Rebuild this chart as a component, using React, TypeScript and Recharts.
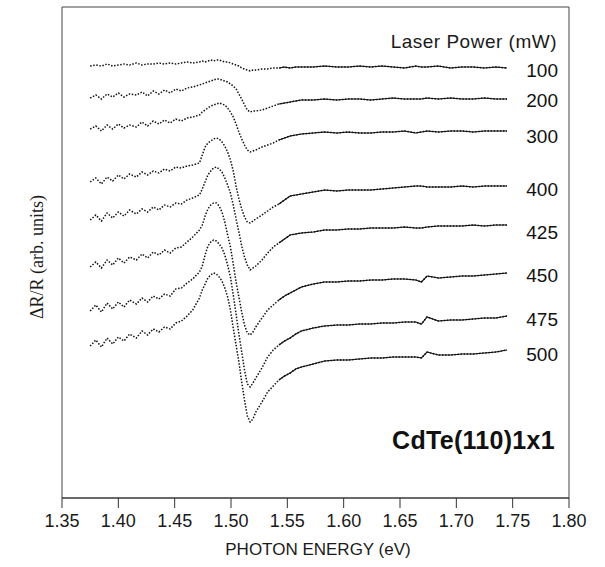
import React from "react";
import { LineChart, Line, XAxis, YAxis, ReferenceArea } from "recharts";

// Photon energy (eV) sample positions
const energy = [
  1.375, 1.38, 1.385, 1.39, 1.395, 1.4, 1.405, 1.41, 1.416, 1.421, 1.426, 1.431, 1.436, 1.441, 1.446, 1.451, 1.456, 1.461, 1.466,
  1.472, 1.4745, 1.477, 1.4795, 1.482, 1.4845, 1.487, 1.4895, 1.492, 1.4945, 1.497, 1.4995, 1.502, 1.5045, 1.507, 1.5095, 1.512, 1.5145, 1.517, 1.5195, 1.522,
  1.5275, 1.5325, 1.5375, 1.5425, 1.5475, 1.5525, 1.5575, 1.5625,
  1.573, 1.583, 1.594, 1.604, 1.614, 1.624, 1.634, 1.644, 1.654, 1.664, 1.669, 1.674, 1.684, 1.695, 1.705, 1.715, 1.725, 1.735, 1.745,
];

// ΔR/R (arb. units, vertically offset) for each laser power (mW)
const p100 = [
  432, 433, 432, 434, 432, 433, 434, 433, 435, 433, 434, 434, 435, 434, 435, 434, 435, 436, 435,
  436, 437, 436, 437, 438, 437, 438, 438, 437, 436, 436, 435, 434, 433, 432, 430, 429, 428, 427, 428, 428,
  429, 429, 430, 430, 431, 430, 431, 431,
  431, 432, 431, 431, 432, 431, 432, 431, 430, 432, 431, 431, 432, 430, 431, 431, 430, 431, 430,
];
const p200 = [
  400, 403, 399, 404, 401, 405, 401, 404, 403, 406, 402, 407, 404, 408, 405, 409, 407, 410, 411,
  413, 414, 415, 416, 417, 418, 419, 419, 418, 417, 416, 414, 412, 409, 404, 399, 393, 388, 386, 387, 387,
  388, 390, 392, 394, 395, 396, 397, 398,
  398, 399, 398, 399, 399, 398, 399, 400, 399, 399, 399, 400, 399, 400, 399, 399, 400, 399, 399,
];
const p300 = [
  369, 372, 367, 373, 369, 374, 370, 373, 371, 376, 372, 377, 374, 378, 375, 379, 377, 380, 381,
  383, 386, 388, 390, 392, 393, 394, 395, 394, 393, 390, 386, 381, 374, 366, 359, 353, 348, 346, 347, 348,
  351, 353, 355, 358, 360, 362, 363, 364,
  365, 366, 365, 366, 365, 365, 366, 366, 367, 365, 366, 367, 366, 367, 367, 366, 367, 367, 367,
];
const p400 = [
  316, 320, 314, 321, 317, 323, 319, 324, 321, 326, 323, 327, 325, 329, 327, 331, 330, 332, 333,
  335, 343, 351, 355, 357, 359, 360, 359, 356, 352, 346, 338, 327, 312, 299, 289, 281, 276, 275, 277, 279,
  283, 287, 291, 294, 298, 302, 303, 304,
  306, 308, 307, 308, 308, 308, 309, 310, 311, 312, 312, 311, 311, 311, 312, 311, 312, 312, 312,
];
const p425 = [
  278, 283, 277, 285, 280, 286, 282, 288, 284, 289, 286, 291, 288, 293, 291, 295, 294, 298, 300,
  303, 309, 316, 323, 327, 330, 331, 329, 326, 320, 313, 305, 293, 279, 266, 252, 241, 233, 228, 230, 232,
  238, 245, 251, 255, 259, 263, 264, 265,
  266, 268, 268, 269, 269, 270, 270, 270, 271, 270, 270, 271, 272, 272, 272, 273, 272, 273, 273,
];
const p450 = [
  231, 236, 230, 238, 233, 240, 235, 241, 238, 244, 240, 246, 243, 248, 245, 250, 251, 256, 261,
  268, 273, 282, 289, 293, 295, 295, 292, 286, 276, 263, 251, 234, 216, 201, 186, 173, 165, 163, 166, 171,
  180, 188, 193, 198, 202, 205, 208, 211,
  214, 216, 216, 217, 217, 218, 218, 219, 219, 218, 216, 222, 220, 221, 222, 222, 223, 224, 225,
];
const p475 = [
  187, 193, 186, 195, 189, 196, 191, 198, 194, 200, 196, 202, 199, 204, 202, 209, 210, 215, 219,
  226, 232, 243, 252, 256, 258, 257, 254, 250, 243, 233, 221, 203, 184, 164, 146, 128, 114, 111, 115, 120,
  130, 141, 148, 153, 157, 160, 164, 167,
  170, 172, 173, 173, 174, 174, 175, 175, 176, 176, 174, 181, 177, 178, 178, 179, 180, 180, 182,
];
const p500 = [
  152, 158, 151, 160, 154, 161, 157, 164, 160, 167, 163, 169, 166, 171, 169, 175, 177, 182, 188,
  200, 208, 214, 220, 223, 225, 224, 221, 217, 210, 201, 188, 170, 153, 136, 116, 98, 82, 76, 79, 86,
  96, 106, 112, 118, 122, 125, 129, 131,
  134, 137, 138, 138, 139, 140, 140, 141, 141, 141, 140, 146, 143, 143, 144, 144, 145, 146, 148,
];

const seriesKeys = ["p100", "p200", "p300", "p400", "p425", "p450", "p475", "p500"];
const seriesValues = [p100, p200, p300, p400, p425, p450, p475, p500];
const powerLabels = ["100", "200", "300", "400", "425", "450", "475", "500"];
const labelY = [71, 101, 137, 190, 233, 276, 320, 355];
const xTicks = [1.35, 1.4, 1.45, 1.5, 1.55, 1.6, 1.65, 1.7, 1.75, 1.8];
const smoothFrom = 1.54; // above this energy the dense data look like a continuous trace

const data = energy.map((e, i) => {
  const row: Record<string, number | null> = { e };
  seriesKeys.forEach((k, j) => {
    row[k] = seriesValues[j][i];
    row[k + "s"] = e >= smoothFrom ? seriesValues[j][i] : null;
  });
  return row;
});

const sans = "'Liberation Sans', Arial, Helvetica, sans-serif";

export default function App() {
  return (
    <div style={{ position: "relative", width: 605, height: 567, background: "#fff", fontFamily: sans }}>
      <style>{`body{margin:0;background:#fff}`}</style>
      <LineChart
        width={605}
        height={567}
        data={data}
        margin={{ top: 7, right: 36, bottom: 0, left: 62 }}
      >
        <XAxis
          dataKey="e"
          type="number"
          domain={[1.35, 1.8]}
          ticks={xTicks}
          tickFormatter={(v: number) => v.toFixed(2)}
          height={69}
          tickSize={10}
          tickMargin={6}
          axisLine={{ stroke: "#333", strokeWidth: 1 }}
          tickLine={{ stroke: "#333", strokeWidth: 1 }}
          tick={{ fontSize: 18, fill: "#1a1a1a", fontFamily: sans }}
          interval={0}
          allowDataOverflow
        />
        <YAxis type="number" domain={[0, 491]} hide allowDataOverflow />
        <ReferenceArea
          x1={1.35}
          x2={1.8}
          y1={0}
          y2={491}
          fill="none"
          stroke="#444"
          strokeWidth={1}
          ifOverflow="visible"
        />
        {seriesKeys.map((k) => (
          <Line
            key={k}
            dataKey={k}
            type="linear"
            stroke="#111"
            strokeWidth={1.5}
            strokeDasharray="1.5 1.6"
            dot={false}
            activeDot={false}
            isAnimationActive={false}
          />
        ))}
        {seriesKeys.map((k) => (
          <Line
            key={k + "s"}
            dataKey={k + "s"}
            type="linear"
            stroke="#111"
            strokeWidth={1.1}
            dot={false}
            activeDot={false}
            connectNulls={false}
            isAnimationActive={false}
          />
        ))}
      </LineChart>

      <div style={{ position: "absolute", left: 0, top: 257, width: 0, height: 0 }}>
        <div
          style={{
            position: "absolute",
            left: 37,
            top: 0,
            transform: "translate(-50%, -50%) rotate(-90deg)",
            whiteSpace: "nowrap",
            fontFamily: "'Liberation Serif', 'Times New Roman', serif",
            fontSize: 18,
            color: "#1a1a1a",
          }}
        >
          ΔR/R (arb. units)
        </div>
      </div>

      <div
        style={{
          position: "absolute",
          left: 318,
          top: 550,
          transform: "translate(-50%, -50%)",
          whiteSpace: "nowrap",
          fontSize: 17,
          color: "#1a1a1a",
        }}
      >
        PHOTON ENERGY (eV)
      </div>

      <div
        style={{
          position: "absolute",
          right: 605 - 557,
          top: 42,
          transform: "translateY(-50%)",
          whiteSpace: "nowrap",
          fontSize: 19,
          letterSpacing: 0.5,
          color: "#1a1a1a",
        }}
      >
        Laser Power (mW)
      </div>

      {powerLabels.map((t, i) => (
        <div
          key={t}
          style={{
            position: "absolute",
            right: 605 - 558,
            top: labelY[i],
            transform: "translateY(-50%)",
            whiteSpace: "nowrap",
            fontSize: 19,
            color: "#111",
          }}
        >
          {t}
        </div>
      ))}

      <div
        style={{
          position: "absolute",
          right: 605 - 555,
          top: 440,
          transform: "translateY(-50%)",
          whiteSpace: "nowrap",
          fontSize: 25,
          fontWeight: "bold",
          letterSpacing: 0.3,
          color: "#111",
        }}
      >
        CdTe(110)1x1
      </div>
    </div>
  );
}
